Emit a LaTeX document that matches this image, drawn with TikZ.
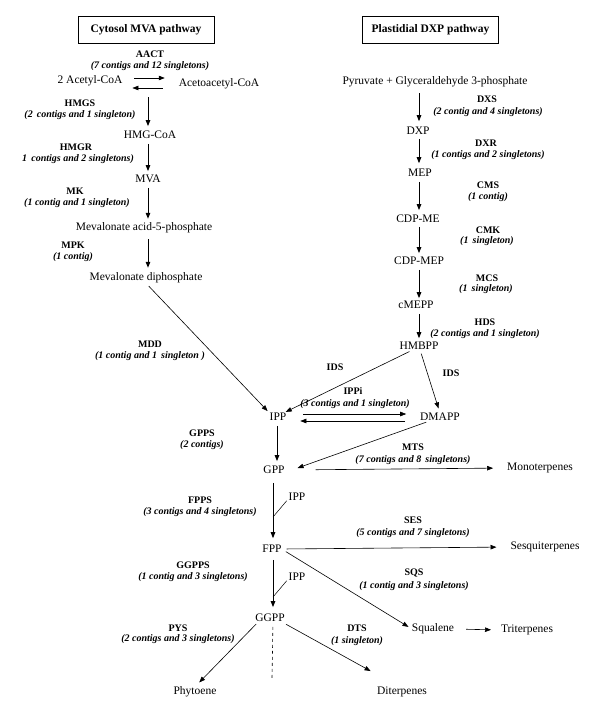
\documentclass[tikz,border=0pt]{standalone}
\usepackage{fontspec}
\setmainfont{Liberation Serif}
\usetikzlibrary{arrows.meta,calc}
\begin{document}
\begin{tikzpicture}[x=1pt,y=-1pt,
  met/.style={font=\fontsize{11.5}{12}\selectfont, inner sep=0pt, outer sep=0pt},
  enz/.style={font=\fontsize{10}{11}\selectfont\bfseries, inner sep=0pt},
  cnt/.style={font=\fontsize{10}{11}\selectfont\bfseries\itshape, inner sep=0pt},
  titlebox/.style={draw, line width=0.8pt, font=\fontsize{11.5}{12}\selectfont\bfseries, minimum width=136pt, minimum height=27pt, inner sep=0pt},
  arr/.style={-{Triangle[length=6pt,width=4.5pt]}, line width=0.6pt},
  varr/.style={arr, line width=1pt},
]
\useasboundingbox (0,0) rectangle (600,718);

% titles
\node[titlebox] (t1) at (146,29.5) {Cytosol MVA pathway};
\node[titlebox] (t2) at (430.5,29.5) {Plastidial DXP pathway};

% column guides
\coordinate (cL) at (148,0);
\coordinate (cR) at (419,0);
\coordinate (cM) at (273,0);
\coordinate (cI) at (277,0);

% metabolites, MVA pathway
\node[met] (acetyl) at (90,81) {2 Acetyl-CoA};
\node[met] (acetoacetyl) at (219,84) {Acetoacetyl-CoA};
\node[met] (hmgcoa) at (150,135) {HMG-CoA};
\node[met] (mva) at (148,179) {MVA};
\node[met] (mev5p) at (144,228) {Mevalonate acid-5-phosphate};
\node[met] (mevpp) at (146,278) {Mevalonate diphosphate};

% metabolites, DXP pathway
\node[met] (pyr) at (435,82) {Pyruvate + Glyceraldehyde 3-phosphate};
\node[met] (dxp) at (418,131) {DXP};
\node[met] (mep) at (420,173) {MEP};
\node[met] (cdpme) at (418,219) {CDP-ME};
\node[met] (cdpmep) at (419,261) {CDP-MEP};
\node[met] (cmepp) at (416,305) {cMEPP};
\node[met] (hmbpp) at (419,346) {HMBPP};

% downstream
\node[met] (ipp) at (278,417) {IPP};
\node[met] (dmapp) at (440,417) {DMAPP};
\node[met] (gpp) at (274,470) {GPP};
\node[met] (mono) at (540,468) {Monoterpenes};
\node[met] (ipp2) at (297,497) {IPP};
\node[met] (fpp) at (272,549) {FPP};
\node[met] (sesq) at (545,547) {Sesquiterpenes};
\node[met] (ipp3) at (297,577) {IPP};
\node[met] (ggpp) at (270,618) {GGPP};
\node[met] (squal) at (433,629) {Squalene};
\node[met] (trit) at (527,630) {Triterpenes};
\node[met] (phyt) at (195,692) {Phytoene};
\node[met] (diterp) at (402,692) {Diterpenes};

% enzyme labels
\node[enz] (aact) at (150,54) {AACT};
\node[cnt] (aactc) at (150,66) {(7 contigs and 12 singletons)};
\node[enz] (hmgs) at (80,103) {HMGS};
\node[cnt] (hmgsc) at (80,115) {(2\, contigs and 1 singleton)};
\node[enz] (hmgr) at (76,147) {HMGR};
\node[cnt] (hmgrc) at (78,159) {1\, contigs and 2 singletons)};
\node[enz] (mk) at (75,191) {MK};
\node[cnt] (mkc) at (77,203) {(1 contig and 1 singleton)};
\node[enz] (mpk) at (73,245) {MPK};
\node[cnt] (mpkc) at (73,257) {(1 contig)};
\node[enz] (mdd) at (150,344) {MDD};
\node[cnt] (mddc) at (150,356) {(1 contig and 1\, singleton )};

\node[enz] (dxs) at (487,99) {DXS};
\node[cnt] (dxsc) at (488,112) {(2 contig and 4 singletons)};
\node[enz] (dxr) at (486,143) {DXR};
\node[cnt] (dxrc) at (488,155) {(1 contigs and 2 singletons)};
\node[enz] (cms) at (488,185) {CMS};
\node[cnt] (cmsc) at (488,197) {(1 contig)};
\node[enz] (cmk) at (488,230) {CMK};
\node[cnt] (cmkc) at (487,241) {(1\, singleton)};
\node[enz] (mcs) at (487,278) {MCS};
\node[cnt] (mcsc) at (486,289) {(1\, singleton)};
\node[enz] (hds) at (485,322) {HDS};
\node[cnt] (hdsc) at (485,334) {(2 contigs and 1 singleton)};

\node[enz] (ids1) at (335,367) {IDS};
\node[enz] (ids2) at (451,373) {IDS};
\node[enz] (ippi) at (353,391) {IPPi};
\node[cnt] (ippic) at (355,404) {(3 contigs and 1 singleton)};
\node[enz] (gpps) at (202,433) {GPPS};
\node[cnt] (gppsc) at (202,445) {(2 contigs)};
\node[enz] (mts) at (413,447) {MTS};
\node[cnt] (mtsc) at (413,460) {(7 contigs and 8\, singletons)};
\node[enz] (fpps) at (200,500) {FPPS};
\node[cnt] (fppsc) at (200,512) {(3 contigs and 4 singletons)};
\node[enz] (ses) at (413,520) {SES};
\node[cnt] (sesc) at (413,533) {(5 contigs and 7 singletons)};
\node[enz] (ggpps) at (193,565) {GGPPS};
\node[cnt] (ggppsc) at (193,577) {(1 contig and 3 singletons)};
\node[enz] (sqs) at (414,573) {SQS};
\node[cnt] (sqsc) at (414,586) {(1 contig and 3 singletons)};
\node[enz] (pys) at (178,628) {PYS};
\node[cnt] (pysc) at (178,639) {(2 contigs and 3 singletons)};
\node[enz] (dts) at (357,628) {DTS};
\node[cnt] (dtsc) at (357,641) {(1 singleton)};

% MVA pathway connectors
\draw[arr] ($(acetyl.east)+(12,-3)$) -- ($(acetoacetyl.west)+(-14,-6)$);
\draw[arr] ($(acetoacetyl.west)+(-16,4)$) -- ($(acetyl.east)+(10,7)$);
\draw[varr,shorten <=8pt,shorten >=5pt] (acetoacetyl.south -| cL) -- (hmgcoa.north -| cL);
\draw[varr,shorten <=5pt,shorten >=4pt] (hmgcoa.south -| cL) -- (mva.north -| cL);
\draw[varr,shorten <=5pt,shorten >=4pt] (mva.south -| cL) -- (mev5p.north -| cL);
\draw[varr,shorten <=6pt,shorten >=5pt] (mev5p.south -| cL) -- (mevpp.north -| cL);
\draw[arr,shorten <=4pt,shorten >=3pt] (mevpp.south) -- (ipp.north west);

% DXP pathway connectors
\draw[varr,shorten <=6pt,shorten >=6pt] (pyr.south -| cR) -- (dxp.north -| cR);
\draw[varr,shorten <=4pt,shorten >=6pt] (dxp.south -| cR) -- (mep.north -| cR);
\draw[varr,shorten <=5pt,shorten >=5pt] (mep.south -| cR) -- (cdpme.north -| cR);
\draw[varr,shorten <=4pt,shorten >=4pt] (cdpme.south -| cR) -- (cdpmep.north -| cR);
\draw[varr,shorten <=5pt,shorten >=3pt] (cdpmep.south -| cR) -- (cmepp.north -| cR);
\draw[varr,shorten <=5pt,shorten >=4pt] (cmepp.south -| cR) -- (hmbpp.north -| cR);
\draw[arr,shorten <=4pt,shorten >=3pt] ($(hmbpp.south)+(-6,0)$) -- ($(ipp.north)+(5,0)$);
\draw[arr,shorten <=4pt,shorten >=5pt] ($(hmbpp.south)+(1,0)$) -- (dmapp.north);

% IPP / DMAPP and downstream
\draw[arr] ($(ipp.east)+(17,-3)$) -- ($(dmapp.west)+(-14,-3)$);
\draw[arr] ($(dmapp.west)+(-15,4)$) -- ($(ipp.east)+(14,4)$);
\draw[varr,shorten <=5pt,shorten >=5pt] (ipp.south -| cI) -- (gpp.north -| cI);
\draw[arr,shorten <=4pt] ($(dmapp.south)+(-10,0)$) -- ($(gpp.east)+(13,-2)$);
\draw[arr,shorten <=31pt,shorten >=14pt] (gpp.east) -- (mono.west);
\draw[varr,shorten <=9pt,shorten >=7pt] (gpp.south -| cM) -- (fpp.north -| cM);
\coordinate (j1) at (273,517);
\draw[line width=0.5pt] (j1) -- ($(ipp2.south west)+(-2,0)$);
\draw[arr,shorten <=5pt,shorten >=14pt] (fpp.east) -- (sesq.west);
\draw[arr,shorten <=5pt,shorten >=4pt] (fpp.east) -- (squal.west);
\draw[arr,shorten <=12pt,shorten >=10pt] (squal.east) -- (trit.west);
\draw[varr,shorten <=7pt,shorten >=7pt] (fpp.south -| cM) -- (ggpp.north -| cM);
\coordinate (j2) at (273,597);
\draw[line width=0.5pt] (j2) -- ($(ipp3.south west)+(-2,0)$);
\draw[arr,shorten <=3pt,shorten >=6pt] ($(ggpp.south west)+(3,0)$) -- (phyt.north);
\coordinate (dashend) at (272,678);
\draw[dashed,line width=0.6pt,shorten <=5pt] (ggpp.south -| cM) -- (dashend);
\draw[arr,shorten <=5pt,shorten >=4pt] ($(ggpp.south east)+(-3,0)$) -- ($(diterp.north west)+(-3,-14)$);
\end{tikzpicture}
\end{document}
